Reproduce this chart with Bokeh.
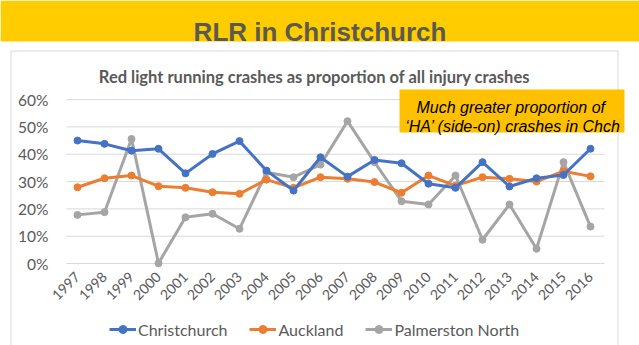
import math
from bokeh.plotting import figure
from bokeh.models import (Range1d, FixedTicker, PrintfTickFormatter, Legend,
                          LegendItem)
from bokeh.core.properties import value
from bokeh.embed import file_html
from bokeh.resources import INLINE

# ---- data ----
years = list(range(1997, 2017))
christchurch = [45.0, 43.8, 41.3, 42.0, 33.0, 40.1, 44.8, 34.0, 26.7, 38.9,
                31.8, 37.9, 36.7, 29.2, 27.7, 37.1, 28.2, 31.2, 32.4, 42.0]
auckland = [27.9, 31.2, 32.2, 28.3, 27.7, 26.1, 25.5, 30.7, 27.7, 31.6,
            31.0, 29.8, 25.9, 32.2, 28.5, 31.6, 31.0, 30.0, 33.8, 31.9]
palmerston_north = [17.8, 18.8, 45.6, 0.1, 16.9, 18.2, 12.7, 33.4, 31.6, 36.2,
                    52.1, 37.1, 22.8, 21.6, 32.2, 8.7, 21.6, 5.4, 37.1, 13.5]
series_names = ["Christchurch", "Auckland", "Palmerston North"]
y_ticks = [0, 10, 20, 30, 40, 50, 60]

header_text = "RLR in Christchurch"
chart_title = "Red light running crashes as proportion of all injury crashes"
note_lines = ["Much greater proportion  of", "\u2018HA\u2019 (side-on) crashes in Chch"]

# ---- styling / geometry ----
W, H = 639, 345
BLUE, ORANGE, GREY = "#4472C4", "#ED7D31", "#A5A5A5"
TXT = "#595959"
GRID = "#D9D9D9"
YELLOW = "#FFCC00"
NOTE_YELLOW = "#FFC000"
FONT = "Lato"

# the frame covers the whole canvas; the plot area sits inside it
X0_PX, X_STEP = 77.0, 27.0          # pixel of first year, pixels per year
Y0_PX, Y_STEP = 263.0, 163.9 / 60   # pixel of 0 %, pixels per percent
x_start = years[0] - X0_PX / X_STEP
x_end = years[0] + (W - X0_PX) / X_STEP
y_start = -(H - Y0_PX) / Y_STEP
y_end = Y0_PX / Y_STEP
grid_x0 = years[0] - (X0_PX - 66) / X_STEP
grid_x1 = years[-1] + (604 - (X0_PX + X_STEP * (len(years) - 1))) / X_STEP

p = figure(width=W, height=H, output_backend="svg", toolbar_location=None,
           x_range=Range1d(x_start, x_end), y_range=Range1d(y_start, y_end),
           min_border=0)
p.extra_x_ranges = {"px": Range1d(0, W)}
p.extra_y_ranges = {"px": Range1d(H, 0)}
p.outline_line_color = None
p.background_fill_color = "white"
p.border_fill_color = "white"
p.xgrid.visible = False
p.ygrid.visible = False

PX = dict(x_range_name="px", y_range_name="px")

# header band + title
p.quad(left=[0], right=[W], top=[0], bottom=[41], fill_color=YELLOW,
       line_color=None, **PX)
p.text(x=[W / 2], y=[31], text=[header_text], text_align="center",
       text_baseline="alphabetic", text_font=value("Liberation Sans"),
       text_font_style="bold", text_font_size="26px", text_color="#5A5A50", **PX)

# chart border (left, top, right)
p.line(x=[10.5, 10.5, 617.5, 617.5], y=[H + 2, 50.5, 50.5, H + 2],
       line_color=GRID, line_width=1, **PX)

# chart title
p.text(x=[314], y=[76], text=[chart_title], text_align="center",
       text_baseline="alphabetic", text_font=value(FONT),
       text_font_style="bold", text_font_size="16.5px", text_color=TXT, **PX)

# horizontal gridlines (from the y tick values)
p.segment(x0=[grid_x0] * len(y_ticks), x1=[grid_x1] * len(y_ticks),
          y0=y_ticks, y1=y_ticks, line_color=GRID, line_width=1)

# series
items = []
for name, vals, col in [(series_names[2], palmerston_north, GREY),
                        (series_names[1], auckland, ORANGE),
                        (series_names[0], christchurch, BLUE)]:
    l = p.line(years, vals, line_color=col, line_width=3)
    c = p.scatter(years, vals, size=7, fill_color=col, line_color=col)
    items.append(LegendItem(label=name, renderers=[l, c]))
items = items[::-1]

# note box
p.quad(left=[399], right=[624], top=[89], bottom=[132], fill_color=NOTE_YELLOW,
       line_color=None, **PX)
p.text(x=[512.5, 512.5], y=[107, 126], text=note_lines, text_align="center",
       text_baseline="alphabetic", text_font=value("Liberation Sans"),
       text_font_style="italic", text_font_size="16px", text_color="black", **PX)

# axes: zero-size side panels, labels drawn inward with negative standoff
p.xaxis.ticker = FixedTicker(ticks=years)
p.xaxis.major_label_orientation = math.pi / 4
p.xaxis.major_label_text_font = FONT
p.xaxis.major_label_text_font_size = "14px"
p.xaxis.major_label_text_color = TXT
p.xaxis.axis_line_color = None
p.xaxis.major_tick_line_color = None
p.xaxis.minor_tick_line_color = None
p.xaxis.major_tick_out = 0
p.xaxis.major_tick_in = 0
p.xaxis.major_label_standoff = -(H - int(Y0_PX)) + 11

p.yaxis.ticker = FixedTicker(ticks=y_ticks)
p.yaxis.formatter = PrintfTickFormatter(format="%d%%")
p.yaxis.major_label_text_font = FONT
p.yaxis.major_label_text_font_size = "15.5px"
p.yaxis.major_label_text_color = TXT
p.yaxis.axis_line_color = None
p.yaxis.major_tick_line_color = None
p.yaxis.minor_tick_line_color = None
p.yaxis.major_tick_out = 0
p.yaxis.major_tick_in = 0
p.yaxis.major_label_standoff = -48

legend = Legend(items=items, orientation="horizontal", location=(109, 6),
                padding=0, margin=0, spacing=22, glyph_width=27,
                glyph_height=20, label_height=20, label_standoff=2,
                label_text_font=FONT, label_text_font_size="16px",
                label_text_color=TXT, border_line_color=None,
                background_fill_alpha=0)
p.add_layout(legend, "center")

open("out.html", "w").write(file_html(p, INLINE))
